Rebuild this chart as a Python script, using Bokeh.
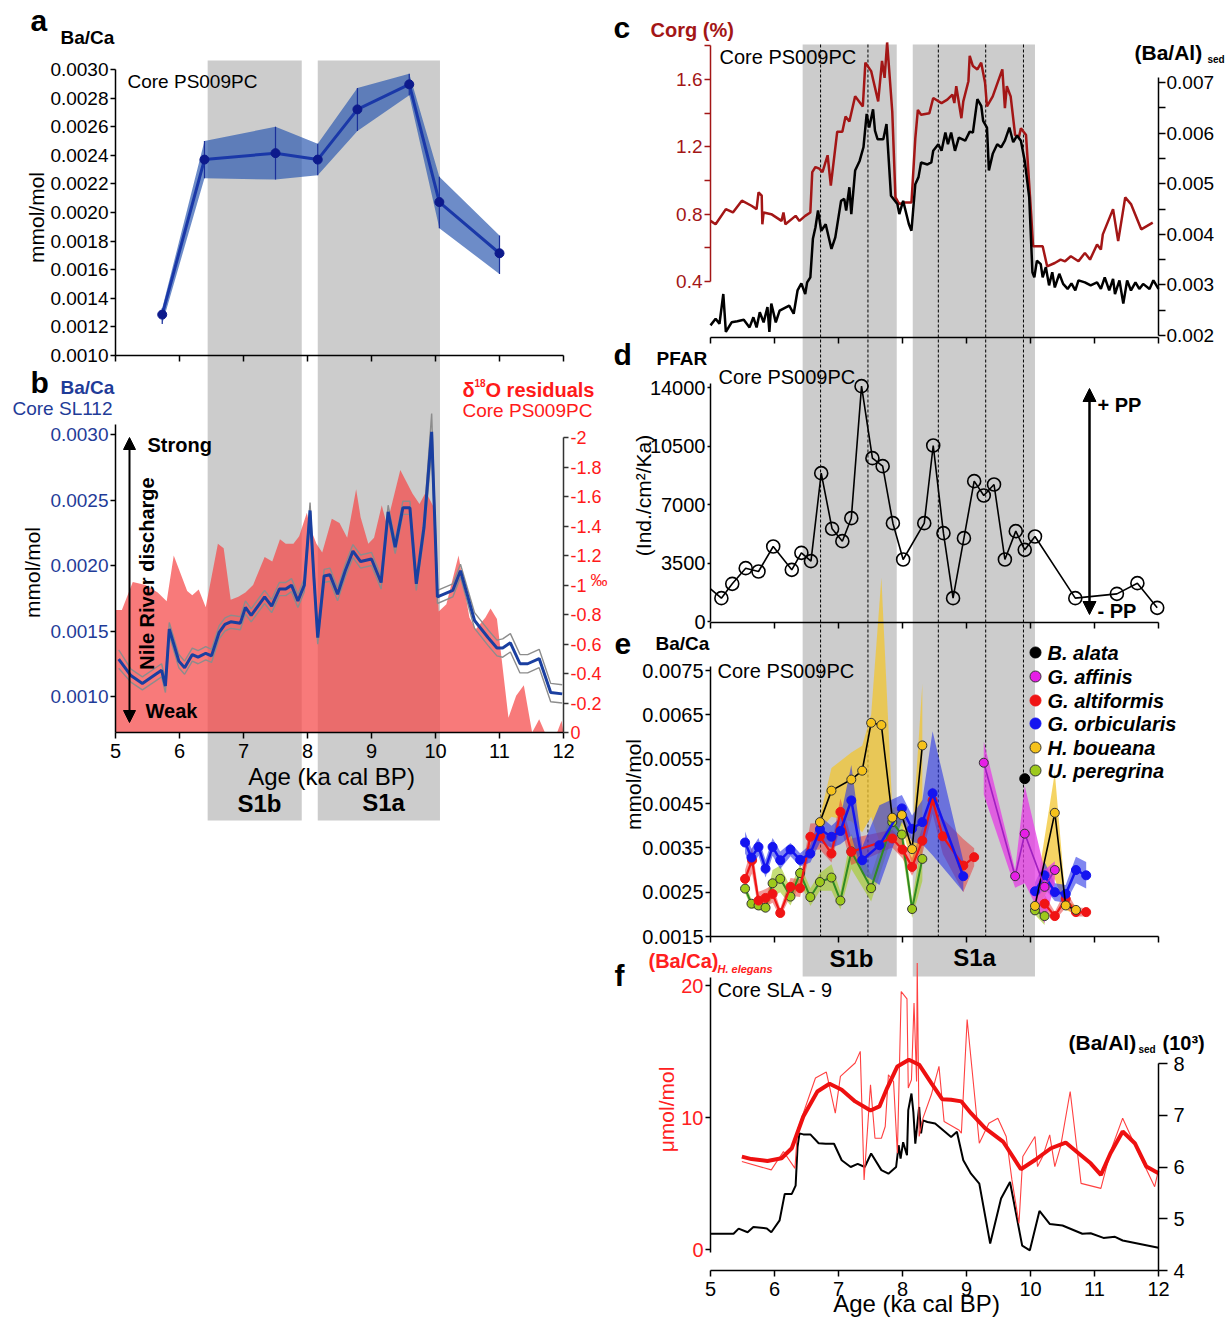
from bokeh.plotting import figure
from bokeh.models import Range1d, LinearAxis, FixedTicker, Label, Arrow, NormalHead
from bokeh.embed import file_html
from bokeh.resources import INLINE

FONT = "Liberation Sans"

# ============================ DATA ============================
age_ticks = [5, 6, 7, 8, 9, 10, 11, 12]
age_tick_labels = ["5", "6", "7", "8", "9", "10", "11", "12"]

s1_names = ["S1b", "S1a"]
s1_start = [6.44, 8.16]
s1_end = [7.91, 10.07]
event_ages = [6.72, 7.46, 8.56, 9.30, 9.89]

# (a) Ba/Ca core PS009PC : age, value, lower, upper
a_bac = [
    (5.73, 0.001286, 0.00122, 0.00133),
    (6.39, 0.00237, 0.00224, 0.00250),
    (7.50, 0.002415, 0.00223, 0.00260),
    (8.16, 0.00237, 0.00226, 0.00248),
    (8.78, 0.002721, 0.00257, 0.00287),
    (9.59, 0.002896, 0.00282, 0.00297),
    (10.06, 0.002073, 0.00189, 0.00225),
    (11.00, 0.001715, 0.00157, 0.00184),
]
a_ticks = [0.0010, 0.0012, 0.0014, 0.0016, 0.0018, 0.0020, 0.0022, 0.0024, 0.0026, 0.0028, 0.0030]
a_tick_labels = ["0.0010", "0.0012", "0.0014", "0.0016", "0.0018", "0.0020",
                 "0.0022", "0.0024", "0.0026", "0.0028", "0.0030"]

# (b) Ba/Ca core SL112 : age, value, uncertainty
b_sl112 = [
    (5.05, 0.001285, 0.00007), (5.24, 0.00116, 0.00005), (5.42, 0.00110, 0.00005),
    (5.60, 0.00116, 0.00005), (5.72, 0.00120, 0.00005), (5.78, 0.00108, 0.00005),
    (5.84, 0.001515, 0.00005), (5.99, 0.00127, 0.00005), (6.08, 0.00122, 0.00005),
    (6.20, 0.00132, 0.00005), (6.29, 0.00130, 0.00005), (6.41, 0.00133, 0.00005),
    (6.50, 0.00131, 0.00005), (6.62, 0.00149, 0.00005), (6.71, 0.00155, 0.00005),
    (6.80, 0.00157, 0.00005), (6.95, 0.00156, 0.00005), (7.03, 0.00168, 0.00005),
    (7.12, 0.00162, 0.00005), (7.24, 0.00170, 0.00005), (7.33, 0.00176, 0.00005),
    (7.44, 0.00169, 0.00005), (7.56, 0.00182, 0.00005), (7.66, 0.00182, 0.00005),
    (7.75, 0.00185, 0.00005), (7.85, 0.00173, 0.00005), (7.95, 0.00185, 0.00005),
    (8.04, 0.00242, 0.00006), (8.10, 0.00191, 0.00005), (8.16, 0.00145, 0.00005),
    (8.26, 0.00192, 0.00005), (8.35, 0.00193, 0.00005), (8.47, 0.00178, 0.00005),
    (8.59, 0.00196, 0.00005), (8.71, 0.00211, 0.00005), (8.83, 0.00203, 0.00005),
    (9.00, 0.00205, 0.00005), (9.15, 0.00187, 0.00005), (9.26, 0.00241, 0.00005),
    (9.37, 0.00214, 0.00005), (9.49, 0.00244, 0.00005), (9.60, 0.00244, 0.00005),
    (9.70, 0.00186, 0.00005), (9.82, 0.00229, 0.00006), (9.94, 0.00302, 0.00014),
    (10.03, 0.00176, 0.00005), (10.27, 0.00181, 0.00005), (10.39, 0.00196, 0.00005),
    (10.61, 0.00158, 0.00006), (10.82, 0.00145, 0.00006), (10.96, 0.00137, 0.00006),
    (11.05, 0.00137, 0.00007), (11.17, 0.00141, 0.00007), (11.32, 0.00125, 0.00007),
    (11.44, 0.00125, 0.00007), (11.62, 0.00129, 0.00007), (11.80, 0.00103, 0.00007),
    (11.98, 0.00102, 0.00007),
]
b_left_ticks = [0.0010, 0.0015, 0.0020, 0.0025, 0.0030]
b_left_labels = ["0.0010", "0.0015", "0.0020", "0.0025", "0.0030"]

# (b) d18O residuals core PS009PC (permil) : age, value
b_d18o = [
    (5.00, -0.83), (5.10, -0.83), (5.27, -1.02), (5.47, -1.00), (5.66, -0.95),
    (5.80, -0.89), (5.91, -1.20), (6.12, -0.96), (6.20, -0.93), (6.30, -0.97),
    (6.41, -0.85), (6.60, -1.28), (6.69, -1.25), (6.80, -0.90), (6.92, -0.92),
    (7.03, -0.95), (7.15, -1.00), (7.33, -1.19), (7.45, -1.16), (7.57, -1.31),
    (7.66, -1.28), (7.78, -1.28), (7.87, -1.33), (7.99, -1.49), (8.04, -1.39),
    (8.14, -1.28), (8.23, -1.22), (8.38, -1.45), (8.50, -1.42), (8.62, -1.32),
    (8.76, -1.65), (8.83, -1.46), (8.95, -1.28), (9.04, -1.32), (9.16, -1.54),
    (9.24, -1.41), (9.45, -1.78), (9.64, -1.62), (9.75, -1.55), (9.85, -1.63),
    (9.98, -1.52), (10.05, -0.82), (10.17, -0.87), (10.36, -1.20), (10.53, -0.78),
    (10.63, -0.70), (10.78, -0.78), (10.86, -0.84), (10.96, -0.77), (11.02, -0.55),
    (11.14, -0.10), (11.26, -0.25), (11.38, -0.32), (11.51, 0.00), (11.62, -0.09),
    (11.71, 0.00), (11.90, 0.00), (11.97, -0.08), (12.00, 0.00),
]
b_right_ticks = [0, -0.2, -0.4, -0.6, -0.8, -1, -1.2, -1.4, -1.6, -1.8, -2]
b_right_labels = ["0", "-0.2", "-0.4", "-0.6", "-0.8", "-1", "-1.2", "-1.4", "-1.6", "-1.8", "-2"]

# (c) Corg (%) core PS009PC : age, value
c_corg = [
    (5.00, 0.76), (5.08, 0.74), (5.24, 0.83), (5.35, 0.81), (5.49, 0.88), (5.64, 0.85),
    (5.72, 0.83), (5.75, 0.93), (5.80, 0.91), (5.81, 0.74), (5.83, 0.81), (5.95, 0.80),
    (6.11, 0.76), (6.14, 0.81), (6.17, 0.74), (6.33, 0.79), (6.39, 0.76), (6.48, 0.79),
    (6.56, 0.81), (6.59, 1.05), (6.64, 1.08), (6.70, 1.07), (6.75, 1.05), (6.83, 1.15),
    (6.88, 0.97), (6.98, 1.29), (7.06, 1.29), (7.11, 1.38), (7.17, 1.35), (7.26, 1.50),
    (7.38, 1.44), (7.42, 1.70), (7.51, 1.65), (7.62, 1.47), (7.68, 1.71), (7.72, 1.61),
    (7.76, 1.82), (7.84, 1.41), (7.89, 0.90), (7.95, 0.86), (8.04, 0.87), (8.14, 0.87),
    (8.20, 1.25), (8.24, 1.42), (8.29, 1.39), (8.42, 1.40), (8.48, 1.49), (8.61, 1.46),
    (8.70, 1.48), (8.78, 1.51), (8.81, 1.46), (8.84, 1.56), (8.92, 1.37), (8.95, 1.47),
    (9.03, 1.59), (9.05, 1.74), (9.10, 1.68), (9.17, 1.66), (9.23, 1.70), (9.29, 1.58),
    (9.32, 1.44), (9.41, 1.50), (9.56, 1.66), (9.60, 1.43), (9.63, 1.56), (9.69, 1.50),
    (9.76, 1.27), (9.82, 1.26), (9.85, 1.31), (9.93, 1.27), (10.01, 0.80), (10.04, 0.61),
    (10.07, 0.61), (10.19, 0.61), (10.26, 0.49), (10.38, 0.51), (10.47, 0.53), (10.54, 0.52),
    (10.63, 0.55), (10.75, 0.52), (10.85, 0.57), (10.93, 0.53), (11.04, 0.62), (11.10, 0.59),
    (11.13, 0.68), (11.29, 0.83), (11.37, 0.64), (11.48, 0.90), (11.57, 0.86), (11.73, 0.71),
    (11.91, 0.75),
]
c_left_ticks = [0.4, 0.8, 1.2, 1.6]
c_left_minor = [0.6, 1.0, 1.4, 1.8]
c_left_labels = ["0.4", "0.8", "1.2", "1.6"]

# (c) (Ba/Al)sed core PS009PC : age, value
c_baal = [
    (5.00, 0.00220), (5.08, 0.00233), (5.14, 0.00223), (5.20, 0.00282), (5.24, 0.00207),
    (5.33, 0.00226), (5.42, 0.00228), (5.52, 0.00231), (5.61, 0.00216), (5.67, 0.00236),
    (5.72, 0.00216), (5.77, 0.00246), (5.83, 0.00226), (5.89, 0.00256), (5.92, 0.00207),
    (5.95, 0.00263), (6.02, 0.00226), (6.08, 0.00249), (6.14, 0.00253), (6.23, 0.00259),
    (6.30, 0.00243), (6.36, 0.00289), (6.42, 0.00303), (6.48, 0.00282), (6.51, 0.00305),
    (6.56, 0.00315), (6.60, 0.00391), (6.64, 0.00414), (6.68, 0.00447), (6.73, 0.00407),
    (6.80, 0.00420), (6.89, 0.00371), (6.95, 0.00394), (7.00, 0.00434), (7.04, 0.00466),
    (7.09, 0.00470), (7.12, 0.00447), (7.17, 0.00493), (7.20, 0.00440), (7.26, 0.00526),
    (7.33, 0.00545), (7.39, 0.00572), (7.44, 0.00638), (7.48, 0.00611), (7.54, 0.00647),
    (7.57, 0.00605), (7.61, 0.00588), (7.70, 0.00588), (7.75, 0.00618), (7.82, 0.00476),
    (7.92, 0.00460), (7.95, 0.00440), (8.01, 0.00466), (8.10, 0.00420), (8.14, 0.00407),
    (8.20, 0.00499), (8.25, 0.00513), (8.29, 0.00542), (8.39, 0.00538), (8.45, 0.00542),
    (8.48, 0.00565), (8.56, 0.00578), (8.61, 0.00565), (8.67, 0.00601), (8.71, 0.00578),
    (8.76, 0.00601), (8.82, 0.00565), (8.88, 0.00591), (8.98, 0.00585), (9.05, 0.00603),
    (9.10, 0.00601), (9.17, 0.00667), (9.23, 0.00654), (9.26, 0.00624), (9.32, 0.00611),
    (9.35, 0.00526), (9.41, 0.00559), (9.48, 0.00578), (9.54, 0.00572), (9.60, 0.00585),
    (9.67, 0.00611), (9.73, 0.00582), (9.79, 0.00595), (9.85, 0.00585), (9.91, 0.00545),
    (9.98, 0.00473), (10.03, 0.00325), (10.06, 0.00315), (10.10, 0.00348), (10.16, 0.00341),
    (10.19, 0.00315), (10.24, 0.00335), (10.29, 0.00299), (10.34, 0.00325), (10.38, 0.00295),
    (10.45, 0.00322), (10.51, 0.00302), (10.58, 0.00292), (10.64, 0.00303), (10.70, 0.00289),
    (10.75, 0.00309), (10.85, 0.00305), (10.94, 0.00299), (11.04, 0.00305), (11.10, 0.00292),
    (11.16, 0.00315), (11.23, 0.00289), (11.29, 0.00312), (11.32, 0.00282), (11.39, 0.00309),
    (11.45, 0.00263), (11.51, 0.00309), (11.57, 0.00289), (11.64, 0.00305), (11.70, 0.00292),
    (11.76, 0.00302), (11.86, 0.00292), (11.92, 0.00309), (12.00, 0.00292),
]
c_right_ticks = [0.002, 0.003, 0.004, 0.005, 0.006, 0.007]
c_right_minor = [0.0025, 0.0035, 0.0045, 0.0055, 0.0065]
c_right_labels = ["0.002", "0.003", "0.004", "0.005", "0.006", "0.007"]

# (d) PFAR (Ind./cm2/Ka) : age, value  (first value has no marker)
d_pfar = [
    (5.00, 1955), (5.17, 1396), (5.34, 2254), (5.55, 3191), (5.75, 2991), (5.98, 4487),
    (6.27, 3091), (6.42, 4108), (6.57, 3610), (6.73, 8875), (6.90, 5544), (7.06, 4806),
    (7.20, 6182), (7.36, 14080), (7.53, 9772), (7.69, 9294), (7.85, 5883), (8.01, 3710),
    (8.34, 5883), (8.48, 10530), (8.64, 5285), (8.79, 1396), (8.96, 4986), (9.12, 8396),
    (9.27, 7539), (9.43, 8197), (9.60, 3710), (9.77, 5405), (9.91, 4288), (10.07, 5086),
    (10.70, 1396), (11.35, 1655), (11.67, 2293), (11.98, 818),
]
d_ticks = [0, 3500, 7000, 10500, 14000]
d_tick_labels = ["0", "3500", "7000", "10500", "14000"]

# (e) Ba/Ca per species, core PS009PC  (None = gap)
e_species = ["B. alata", "G. affinis", "G. altiformis", "G. orbicularis", "H. boueana", "U. peregrina"]
e_colors = ["#000000", "#e61ee6", "#f01414", "#1414f0", "#f5c21b", "#9dc91c"]
# age, value, half-width
e_orbicularis = [
    (5.54, 0.00362, 0.00025), (5.64, 0.00328, 0.00020), (5.75, 0.00352, 0.00020),
    (5.86, 0.00303, 0.00020), (5.97, 0.00352, 0.00020), (6.09, 0.00322, 0.00020),
    (6.25, 0.00346, 0.00015), (6.40, 0.00323, 0.00015), (6.56, 0.00337, 0.00020),
    (6.71, 0.00392, 0.00030), (6.89, 0.00375, 0.00025), (7.03, 0.00388, 0.00030),
    (7.20, 0.00457, 0.00080), (7.37, 0.00322, 0.00030), (7.64, 0.00356, 0.00090),
    (7.99, 0.00439, 0.00030), (8.15, 0.00393, 0.00030), (8.31, 0.00408, 0.00050),
    (8.47, 0.00473, 0.00140), (8.95, 0.00286, 0.00035), None,
    (10.07, 0.00252, 0.00020), (10.22, 0.00288, 0.00030), (10.38, 0.00250, 0.00020),
    (10.55, 0.00246, 0.00020), (10.71, 0.00300, 0.00030), (10.87, 0.00288, 0.00030),
]
e_altiformis = [
    (5.54, 0.00280, 0.00020), (5.65, 0.00322, 0.00030), (5.75, 0.00231, 0.00020),
    (5.86, 0.00237, 0.00020), (5.97, 0.00246, 0.00020), (6.09, 0.00203, 0.00010),
    (6.25, 0.00262, 0.00020), (6.40, 0.00259, 0.00020), (6.56, 0.00375, 0.00030),
    (6.71, 0.00376, 0.00030), (6.89, 0.00337, 0.00020), (7.03, 0.00431, 0.00030),
    (7.20, 0.00341, 0.00030), (7.84, 0.00371, 0.00020), (8.00, 0.00346, 0.00020),
    (8.15, 0.00307, 0.00020), (8.31, 0.00366, 0.00030), (8.47, 0.00457, 0.00030),
    (8.63, 0.00376, 0.00040), (8.95, 0.00310, 0.00060), (9.12, 0.00329, 0.00020), None,
    (10.22, 0.00224, 0.00020), (10.38, 0.00196, 0.00010), (10.55, 0.00235, 0.00020),
    (10.71, 0.00205, 0.00010), (10.87, 0.00205, 0.00010),
]
e_peregrina = [
    (5.54, 0.00258, 0.00010), (5.64, 0.00224, 0.00010), (5.75, 0.00220, 0.00010),
    (5.86, 0.00215, 0.00010), (5.97, 0.00270, 0.00030), (6.09, 0.00280, 0.00030),
    (6.25, 0.00240, 0.00020), (6.40, 0.00293, 0.00020), (6.56, 0.00239, 0.00020),
    (6.71, 0.00273, 0.00020), (6.89, 0.00283, 0.00030), (7.03, 0.00231, 0.00020),
    (7.20, 0.00342, 0.00040), (7.51, 0.00259, 0.00030), (7.84, 0.00408, 0.00030),
    (7.99, 0.00380, 0.00030), (8.15, 0.00212, 0.00020), (8.31, 0.00325, 0.00050), None,
    (10.07, 0.00209, 0.00010), (10.22, 0.00196, 0.00020),
]
# age, value, lower, upper
e_boueana = [
    (6.71, 0.00408, 0.00390, 0.00420), (6.89, 0.00479, 0.00420, 0.00530),
    (7.20, 0.00504, 0.00410, 0.00565), (7.37, 0.00524, 0.00385, 0.00580),
    (7.51, 0.00632, 0.00420, 0.00650), (7.67, 0.00627, 0.00350, 0.00960),
    (7.84, 0.00418, 0.00390, 0.00440), (7.99, 0.00424, 0.00400, 0.00445),
    (8.15, 0.00347, 0.00310, 0.00370), (8.31, 0.00581, 0.00360, 0.00720), None,
    (10.07, 0.00219, 0.00205, 0.00235), (10.38, 0.00429, 0.00280, 0.00520),
    (10.55, 0.00220, 0.00210, 0.00230), (10.71, 0.00210, 0.00200, 0.00220),
]
e_affinis = [
    (9.27, 0.00542, 0.00470, 0.00590), (9.76, 0.00286, 0.00260, 0.00300),
    (9.91, 0.00382, 0.00270, 0.00490), (10.22, 0.00262, 0.00180, 0.00300),
    (10.38, 0.00300, 0.00270, 0.00320),
]
e_alata = [(9.91, 0.00506)]
e_ticks = [0.0015, 0.0025, 0.0035, 0.0045, 0.0055, 0.0065, 0.0075]
e_tick_labels = ["0.0015", "0.0025", "0.0035", "0.0045", "0.0055", "0.0065", "0.0075"]

# (f) core SLA-9 : (Ba/Ca) H. elegans raw (umol/mol)
f_raw = [
    (5.49, 6.66), (5.95, 6.03), (6.14, 7.42), (6.32, 6.15), (6.36, 9.06), (6.64, 12.99),
    (6.81, 13.44), (6.95, 10.33), (7.03, 13.11), (7.26, 14.13), (7.34, 15.01), (7.40, 5.27),
    (7.50, 12.48), (7.57, 8.43), (7.67, 8.43), (7.73, 9.32), (7.78, 13.24), (7.86, 12.73),
    (7.92, 7.29), (7.98, 19.54), (8.07, 18.99), (8.09, 12.23), (8.14, 12.86), (8.18, 18.68),
    (8.22, 12.73), (8.23, 21.70), (8.26, 8.56), (8.32, 9.95), (8.45, 11.72), (8.57, 13.87),
    (8.65, 9.70), (8.88, 9.06), (8.92, 8.81), (9.01, 17.42), (9.20, 8.05), (9.35, 9.57),
    (9.49, 9.95), (9.62, 8.56), (9.71, 5.27), (9.82, 1.97), (9.88, 7.04), (10.07, 8.56),
    (10.11, 6.28), (10.19, 7.04), (10.30, 8.68), (10.38, 6.28), (10.47, 7.80), (10.62, 11.97),
    (10.79, 5.01), (11.10, 4.63), (11.25, 7.42), (11.44, 9.95), (11.69, 7.29), (11.94, 4.76),
    (12.00, 6.03),
]
# smoothed (Ba/Ca) H. elegans
f_smooth = [
    (5.49, 7.04), (5.64, 6.85), (5.89, 6.71), (6.11, 6.91), (6.27, 7.67), (6.45, 10.08),
    (6.67, 11.97), (6.86, 12.56), (7.05, 12.10), (7.26, 11.22), (7.50, 10.53), (7.64, 10.84),
    (7.76, 12.23), (7.92, 13.87), (8.10, 14.38), (8.26, 14.00), (8.45, 12.61), (8.62, 11.39),
    (8.76, 11.34), (8.92, 11.22), (9.07, 10.33), (9.29, 9.19), (9.57, 8.18), (9.69, 7.29),
    (9.85, 6.08), (10.07, 6.78), (10.32, 7.67), (10.55, 8.10), (10.75, 7.29), (10.94, 6.53),
    (11.10, 5.65), (11.25, 7.29), (11.44, 8.94), (11.63, 8.05), (11.81, 6.28), (12.00, 5.77),
]
# (Ba/Al)sed x 10^3
f_baal = [
    (5.00, 4.71), (5.36, 4.71), (5.44, 4.81), (5.58, 4.74), (5.67, 4.84), (5.83, 4.82),
    (5.88, 4.81), (5.95, 4.74), (6.08, 4.97), (6.16, 5.48), (6.27, 5.48), (6.33, 5.64),
    (6.36, 6.39), (6.39, 6.65), (6.45, 6.63), (6.56, 6.63), (6.69, 6.46), (6.80, 6.45),
    (6.93, 6.45), (7.05, 6.13), (7.19, 6.00), (7.30, 6.06), (7.41, 6.00), (7.51, 6.26),
    (7.67, 5.94), (7.78, 5.87), (7.90, 6.00), (7.94, 6.42), (7.97, 6.16), (8.01, 6.48),
    (8.07, 6.23), (8.09, 7.10), (8.14, 7.42), (8.17, 7.06), (8.20, 6.45), (8.26, 7.16),
    (8.29, 6.65), (8.32, 6.90), (8.39, 6.87), (8.51, 6.84), (8.76, 6.58), (8.85, 6.68),
    (8.95, 6.13), (9.07, 5.87), (9.20, 5.68), (9.37, 4.52), (9.54, 5.39), (9.68, 5.71),
    (9.87, 4.48), (9.99, 4.39), (10.14, 5.15), (10.30, 4.90), (10.50, 4.87), (10.81, 4.71),
    (10.94, 4.72), (11.14, 4.63), (11.32, 4.65), (11.44, 4.58), (12.00, 4.44),
]
f_left_ticks = [0, 10, 20]
f_left_labels = ["0", "10", "20"]
f_right_ticks = [4, 5, 6, 7, 8]
f_right_labels = ["4", "5", "6", "7", "8"]

# ============================ FIGURE ============================
W, H = 1225, 1320
X0, Y0 = 0, 0   # default ranges are expressed in picture pixels

p = figure(width=W, height=H, output_backend="svg", toolbar_location=None,
           x_range=Range1d(X0, X0 + W), y_range=Range1d(Y0 + H, Y0),
           x_axis_type=None, y_axis_type=None, min_border=0, title=None)
p.outline_line_color = None
p.background_fill_color = "white"
p.border_fill_color = "white"
p.grid.visible = False


def xmap(v1, px1, v2, px2):
    k = (v2 - v1) / (px2 - px1)
    return Range1d(start=v1 + k * (X0 - px1), end=v1 + k * (X0 + W - px1))


def ymap(v1, py1, v2, py2):
    k = (v2 - v1) / (py2 - py1)
    return Range1d(start=v1 + k * (Y0 + H - py1), end=v1 + k * (Y0 - py1))


p.extra_x_ranges = {"L": xmap(5, 115, 12, 563), "R": xmap(5, 710, 12, 1158)}
p.extra_y_ranges = {
    "a": ymap(0.003, 69, 0.001, 355),
    "bl": ymap(0.003, 434, 0.001, 696),
    "br": ymap(-2, 437, 0, 732),
    "cl": ymap(1.6, 79, 0.4, 281),
    "cr": ymap(0.007, 82, 0.002, 335),
    "d": ymap(14000, 387, 0, 621),
    "e": ymap(0.0075, 670, 0.0015, 936),
    "fl": ymap(20, 985, 0, 1249),
    "fr": ymap(8, 1063, 4, 1270),
}


def col(rows, i):
    return [r[i] for r in rows]


def split(rows):
    out, cur = [], []
    for r in rows:
        if r is None:
            if cur:
                out.append(cur)
            cur = []
        else:
            cur.append(r)
    if cur:
        out.append(cur)
    return out


def vaxis(side, yname, x_loc, ticks, labels, bounds, minor=(), line_color="black",
          label_color="black", size=19, tick_out=5, standoff=3):
    ax = LinearAxis(
        x_range_name="default", y_range_name=yname, fixed_location=x_loc, bounds=bounds,
        ticker=FixedTicker(ticks=list(ticks), minor_ticks=list(minor)),
        major_label_overrides={t: l for t, l in zip(ticks, labels)},
        axis_line_color=line_color, axis_line_width=1.5,
        major_tick_line_color=line_color, major_tick_line_width=1.5,
        major_tick_out=tick_out, major_tick_in=0,
        minor_tick_line_color=line_color, minor_tick_line_width=1.5,
        minor_tick_out=tick_out if minor else 0, minor_tick_in=0,
        major_label_text_font=FONT, major_label_text_font_size=f"{size}px",
        major_label_text_color=label_color, major_label_standoff=standoff)
    p.add_layout(ax, side)


def xaxis(xname, y_loc, labeled):
    ax = LinearAxis(
        x_range_name=xname, y_range_name="default", fixed_location=y_loc, bounds=(5, 12),
        ticker=FixedTicker(ticks=age_ticks, minor_ticks=[]),
        major_label_overrides={t: l for t, l in zip(age_ticks, age_tick_labels)},
        axis_line_color="black", axis_line_width=1.5,
        major_tick_line_color="black", major_tick_line_width=1.5,
        major_tick_out=6, major_tick_in=0, minor_tick_out=0, minor_tick_in=0,
        major_label_text_font=FONT, major_label_text_font_size="20px",
        major_label_text_color="black" if labeled else None, major_label_standoff=5)
    p.add_layout(ax, "below")


def txt(x, y, s, size=19, color="black", style="normal", align="left", angle=0.0):
    p.add_layout(Label(x=x, y=y, text=s, text_font=FONT, text_font_size=f"{size}px",
                       text_color=color, text_font_style=style, text_align=align,
                       text_baseline="middle", angle=angle))


ROT = 1.5707963267948966

# ---------------- shaded intervals and event lines ----------------
n_s1 = len(s1_start)
p.quad(left=s1_start, right=s1_end, top=[60] * n_s1, bottom=[820] * n_s1,
       x_range_name="L", fill_color="#cccccc", line_color=None)
p.quad(left=s1_start, right=s1_end, top=[44] * n_s1, bottom=[976] * n_s1,
       x_range_name="R", fill_color="#cccccc", line_color=None)
n_ev = len(event_ages)
p.segment(x0=event_ages, x1=event_ages, y0=[44] * n_ev, y1=[936] * n_ev,
          x_range_name="R", line_color="black", line_width=1, line_dash="3 2")

# ---------------- (a) ----------------
aa, av, alo, ahi = col(a_bac, 0), col(a_bac, 1), col(a_bac, 2), col(a_bac, 3)
p.varea(x=aa, y1=alo, y2=ahi, fill_color="#2f5bb0", fill_alpha=0.7,
        x_range_name="L", y_range_name="a")
p.segment(x0=aa, x1=aa, y0=alo, y1=ahi, line_color="#1a2f9a", line_width=1.2,
          x_range_name="L", y_range_name="a")
p.line(aa, av, line_color="#1a38a8", line_width=3, x_range_name="L", y_range_name="a")
p.scatter(aa, av, size=9, fill_color="#0d1a8c", line_color="#0d1a8c",
          x_range_name="L", y_range_name="a")
vaxis("left", "a", 115, a_ticks, a_tick_labels, (0.001, 0.003), size=19, tick_out=5, standoff=2)
xaxis("L", 355, False)

# ---------------- (b) ----------------
ra, rv = col(b_d18o, 0), col(b_d18o, 1)
p.varea(x=ra, y1=[0] * len(ra), y2=rv, fill_color="#f54646", fill_alpha=0.72,
        x_range_name="L", y_range_name="br")
ba, bv, be = col(b_sl112, 0), col(b_sl112, 1), col(b_sl112, 2)
p.line(ba, [v + e for v, e in zip(bv, be)], line_color="#8c8c8c", line_width=1.4,
       x_range_name="L", y_range_name="bl")
p.line(ba, [v - e for v, e in zip(bv, be)], line_color="#8c8c8c", line_width=1.4,
       x_range_name="L", y_range_name="bl")
p.line(ba, bv, line_color="#1a3fa0", line_width=3, x_range_name="L", y_range_name="bl")
vaxis("left", "bl", 115, b_left_ticks, b_left_labels, (0.000725, 0.00308),
      label_color="#1f3c98", size=19, tick_out=5, standoff=2)
vaxis("right", "br", 563, b_right_ticks, b_right_labels, (-2, 0),
      line_color="#333333", label_color="#ff1a1a", size=18, tick_out=5, standoff=2)
xaxis("L", 732, True)
p.add_layout(Arrow(x_start=129, y_start=722, x_end=129, y_end=437, line_width=2,
                   start=NormalHead(size=12, fill_color="black", line_color="black"),
                   end=NormalHead(size=12, fill_color="black", line_color="black")))

# ---------------- (c) ----------------
p.line(col(c_corg, 0), col(c_corg, 1), line_color="#a31616", line_width=2.5,
       x_range_name="R", y_range_name="cl")
p.line(col(c_baal, 0), col(c_baal, 1), line_color="black", line_width=2.5,
       x_range_name="R", y_range_name="cr")
vaxis("left", "cl", 710, c_left_ticks, c_left_labels, (0.4, 1.8), minor=c_left_minor,
      line_color="#a31616", label_color="#a31616", size=19, tick_out=6, standoff=2)
vaxis("right", "cr", 1158, c_right_ticks, c_right_labels, (0.002, 0.0071), minor=c_right_minor,
      size=19, tick_out=7, standoff=1)
xaxis("R", 337, False)

# ---------------- (d) ----------------
da, dv = col(d_pfar, 0), col(d_pfar, 1)
p.line(da, dv, line_color="black", line_width=1.6, x_range_name="R", y_range_name="d")
p.scatter(da[1:], dv[1:], size=13, fill_color=None, line_color="black", line_width=1.6,
          x_range_name="R", y_range_name="d")
vaxis("left", "d", 710, d_ticks, d_tick_labels, (0, 14250), size=20, tick_out=3, standoff=2)
xaxis("R", 622, False)
p.add_layout(Arrow(x_start=1089, y_start=614, x_end=1089, y_end=388, line_width=2.5,
                   start=NormalHead(size=13, fill_color="black", line_color="black"),
                   end=NormalHead(size=13, fill_color="black", line_color="black")))

# ---------------- (e) ----------------
def e_band(rows, color, alpha, asym=False):
    for seg in split(rows):
        x = col(seg, 0)
        if asym:
            lo, hi = col(seg, 2), col(seg, 3)
        else:
            lo = [r[1] - r[2] for r in seg]
            hi = [r[1] + r[2] for r in seg]
        p.varea(x=x, y1=lo, y2=hi, fill_color=color, fill_alpha=alpha,
                x_range_name="R", y_range_name="e")


def e_line(rows, lcolor, lwidth, mfill, mline, msize=9):
    for seg in split(rows):
        x, y = col(seg, 0), col(seg, 1)
        p.line(x, y, line_color=lcolor, line_width=lwidth, x_range_name="R", y_range_name="e")
        p.scatter(x, y, size=msize, fill_color=mfill, line_color=mline, line_width=1,
                  x_range_name="R", y_range_name="e")


e_band(e_boueana, "#f2c630", 0.75, asym=True)
e_band(e_peregrina, "#a6cc2e", 0.65)
e_band(e_altiformis, "#e83030", 0.5)
e_band(e_orbicularis, "#2a36e6", 0.6)
e_band(e_affinis, "#e63ce6", 0.75, asym=True)

e_line(e_peregrina, "#2f8a22", 2, e_colors[5], "#333333")
e_line(e_altiformis, e_colors[2], 2.2, e_colors[2], e_colors[2])
e_line(e_orbicularis, e_colors[3], 2.5, e_colors[3], e_colors[3])
e_line(e_boueana, "black", 1.6, e_colors[4], "#333333")
e_line(e_affinis, "#a020c0", 1.6, e_colors[1], "#333333")
p.scatter(col(e_alata, 0), col(e_alata, 1), size=10, fill_color="black", line_color="black",
          x_range_name="R", y_range_name="e")
vaxis("left", "e", 710, e_ticks, e_tick_labels, (0.0015, 0.0076), size=20, tick_out=5, standoff=2)
xaxis("R", 936, False)

legend_y = [652, 676, 700, 723, 747, 770]
p.scatter([1035] * len(e_species), legend_y, size=11, fill_color=e_colors,
          line_color=["black", "#333333", e_colors[2], e_colors[3], "#333333", "#333333"])
for name, yy in zip(e_species, legend_y):
    txt(1047, yy, name, size=20, style="bold italic")

# ---------------- (f) ----------------
p.line(col(f_baal, 0), col(f_baal, 1), line_color="black", line_width=2,
       x_range_name="R", y_range_name="fr")
p.line(col(f_raw, 0), col(f_raw, 1), line_color="#ff4040", line_width=1.1,
       x_range_name="R", y_range_name="fl")
p.line(col(f_smooth, 0), col(f_smooth, 1), line_color="#ee1010", line_width=4,
       x_range_name="R", y_range_name="fl")
vaxis("left", "fl", 710, f_left_ticks, f_left_labels, (-0.2, 20.6),
      label_color="#ff2020", size=20, tick_out=5, standoff=2)
vaxis("right", "fr", 1158, f_right_ticks, f_right_labels, (4, 8), size=20, tick_out=9, standoff=6)
xaxis("R", 1270, True)

# ---------------- texts ----------------
txt(30, 20, "a", 30, style="bold")
txt(60, 37, "Ba/Ca", 19, style="bold")
txt(127, 81, "Core PS009PC", 19)
txt(36, 217, "mmol/mol", 21, align="center", angle=ROT)

txt(30, 382, "b", 30, style="bold")
txt(60, 387, "Ba/Ca", 19, color="#1f3c98", style="bold")
txt(12, 408, "Core SL112", 19, color="#1f3c98")
txt(462, 389, "δ", 20, color="#ff1a1a", style="bold")
txt(474, 382, "18", 10, color="#ff1a1a", style="bold")
txt(485, 389, "O residuals", 20, color="#ff1a1a", style="bold")
txt(462, 410, "Core PS009PC", 19, color="#ff1a1a")
txt(590, 580, "‰", 17, color="#ff1a1a")
txt(32, 572, "mmol/mol", 21, align="center", angle=ROT)
txt(147, 444, "Strong", 20, style="bold")
txt(145, 710, "Weak", 20, style="bold")
txt(146, 573, "Nile River discharge", 20, style="bold", align="center", angle=ROT)
txt(331, 776, "Age (ka cal BP)", 24, align="center")
txt(259, 803, s1_names[0], 24, style="bold", align="center")
txt(383, 802, s1_names[1], 24, style="bold", align="center")

txt(613, 27, "c", 30, style="bold")
txt(650, 29, "Corg (%)", 20, color="#a31616", style="bold")
txt(719, 56, "Core PS009PC", 20)
txt(1134, 52, "(Ba/Al)", 21, style="bold")
txt(1207, 59, "sed", 10, style="bold")

txt(613, 354, "d", 30, style="bold")
txt(656, 358, "PFAR", 19, style="bold")
txt(718, 376, "Core PS009PC", 20)
txt(643, 495, "(Ind./cm²/Ka)", 21, align="center", angle=ROT)
txt(1097, 404, "+ PP", 20, style="bold")
txt(1097, 610, "- PP", 20, style="bold")

txt(614, 643, "e", 30, style="bold")
txt(655, 643, "Ba/Ca", 19, style="bold")
txt(717, 670, "Core PS009PC", 20)
txt(633, 784, "mmol/mol", 21, align="center", angle=ROT)
txt(851, 958, s1_names[0], 24, style="bold", align="center")
txt(974, 957, s1_names[1], 24, style="bold", align="center")

txt(614, 975, "f", 30, style="bold")
txt(648, 960, "(Ba/Ca)", 20, color="#ff2020", style="bold")
txt(717, 968, "H. elegans", 11, color="#ff2020", style="bold italic")
txt(717, 989, "Core SLA - 9", 20)
txt(666, 1109, "μmol/mol", 21, color="#ff2020", align="center", angle=ROT)
txt(1068, 1042, "(Ba/Al)", 21, style="bold")
txt(1138, 1049, "sed", 10, style="bold")
txt(1162, 1042, "(10³)", 20, style="bold")
txt(916, 1303, "Age (ka cal BP)", 24, align="center")

open("out.html", "w").write(file_html(p, INLINE))
